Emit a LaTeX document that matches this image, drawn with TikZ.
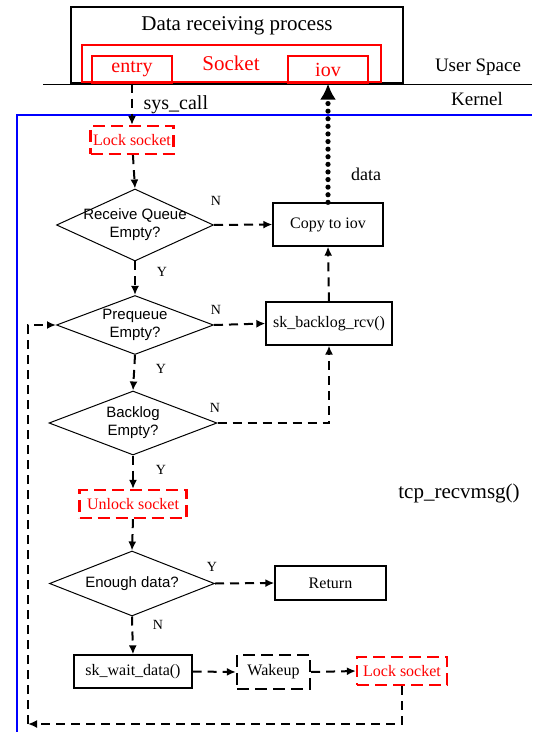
\documentclass[tikz,border=0pt]{standalone}
\usepackage{fontspec}
\setmainfont{Liberation Serif}
\setsansfont{Liberation Sans}
\usetikzlibrary{shapes.geometric,arrows.meta}

\tikzset{
	box/.style={draw, line width=0.65pt, inner sep=0pt, font=\fontsize{8}{9}\selectfont},
	redbox/.style={draw=red, text=red, line width=0.6pt, inner sep=0pt},
	lockbox/.style={draw=red, text=red, line width=1.1pt, dash pattern=on 6pt off 3pt, inner sep=0pt, minimum height=14pt, font=\fontsize{8}{9}\selectfont},
	dec/.style={diamond, draw, line width=0.5pt, inner sep=0pt},
	dectext/.style={align=center, font=\sffamily\fontsize{7.5}{9}\selectfont},
	flow/.style={line width=1pt, dash pattern=on 4.5pt off 3pt, -{Latex[length=4.5pt,width=4pt]}},
	yn/.style={font=\fontsize{7}{8}\selectfont},
}

\begin{document}
\begin{tikzpicture}[x=0.5pt,y=-0.5pt]
	\useasboundingbox (0,0) rectangle (532,732);

	% user space
	\node[draw, line width=0.6pt, minimum width=166pt, minimum height=38pt] (app) at (237,45) {};
	\node[font=\fontsize{10.5}{12}\selectfont] (title) at (237,26) {Data receiving process};
	\node[redbox, minimum width=149.5pt, minimum height=18.5pt] (sock) at (231.5,63.5) {};
	\node[text=red, font=\fontsize{10.5}{12}\selectfont] (socktxt) at (231,63) {Socket};
	\node[redbox, minimum width=40pt, minimum height=13.5pt, font=\fontsize{10}{12}\selectfont] (entry) at (132,69.5) {entry};
	\node[redbox, minimum width=40pt, minimum height=13.5pt, font=\fontsize{10}{12}\selectfont] (iov) at (328,69.5) {iov};

	\draw[line width=0.5pt] (43,85) -- (532,85);
	\node[font=\fontsize{9.5}{11}\selectfont] (us) at (478,67) {User Space};
	\node[font=\fontsize{9.5}{11}\selectfont] (kern) at (477,99) {Kernel};

	% kernel
	\draw[blue, line width=0.7pt] (17,732) |- (532,115);
	\node[font=\fontsize{10.5}{12}\selectfont] (tcp) at (459,493) {tcp\_recvmsg()};

	\node[lockbox, minimum width=41.5pt] (lk1) at (132,140) {Lock socket};
	\node[dec, minimum width=78.5pt, minimum height=36pt,
		label={[dectext]center:{Receive Queue\\Empty?}}] (rq) at (135,225) {};
	\node[box, minimum width=55pt, minimum height=21.5pt] (copy) at (328,224.5) {Copy to iov};
	\node[dec, minimum width=78.5pt, minimum height=29.5pt,
		label={[dectext]center:{Prequeue\\Empty?}}] (pq) at (135,325) {};
	\node[box, minimum width=63pt, minimum height=21.5pt] (bkr) at (329,323.5) {sk\_backlog\_rcv()};
	\node[dec, minimum width=84pt, minimum height=32pt,
		label={[dectext]center:{Backlog\\Empty?}}] (bl) at (133,423) {};
	\node[lockbox, minimum width=53.5pt] (ulk) at (133,504) {Unlock socket};
	\node[dec, minimum width=82.5pt, minimum height=32.5pt,
		label={[dectext]center:{Enough data?}}] (ed) at (132,583.5) {};
	\node[box, minimum width=55.5pt, minimum height=17pt] (ret) at (330.5,583) {Return};
	\node[box, minimum width=59pt, minimum height=16.5pt] (wait) at (133,671.5) {sk\_wait\_data()};
	\node[box, dash pattern=on 6pt off 3pt, line width=1.1pt, minimum width=36.5pt, minimum height=17pt] (wake) at (273.5,672) {Wakeup};
	\node[lockbox, minimum width=45pt] (lk2) at (402,671) {Lock socket};
	\coordinate (loop) at (28,724);

	% connectors
	\draw[flow] (entry) -- node[right, font=\fontsize{10}{12}\selectfont, xshift=2pt] (sys) {sys\_call} (lk1);
	\draw[flow] (lk1) -- (rq.north);
	\draw[flow] (rq.east) -- (copy.west);
	\draw[flow] (rq.south) -- (pq.north);
	\draw[flow] (pq.east) -- (bkr.west);
	\draw[flow] (pq.south) -- (bl.north);
	\draw[flow] (bl.east) -| (bkr.south);
	\draw[flow] (bkr.north) -- (copy.south);
	\draw[line width=2.6pt, dash pattern=on 0pt off 3.8pt, line cap=round, -{Latex[length=8pt,width=8pt]}]
		(copy.north) -- (iov.south);
	\node[font=\fontsize{9}{11}\selectfont] (dt) at (366,174) {data};
	\draw[flow] (bl.south) -- (ulk.north);
	\draw[flow] (ulk.south) -- (ed.north);
	\draw[flow] (ed.east) -- (ret.west);
	\draw[flow] (ed.south) -- (wait.north);
	\draw[flow] (wait.east) -- (wake.west);
	\draw[flow] (wake.east) -- (lk2.west);
	\draw[flow] (lk2.south) |- (loop);
	\draw[flow] (loop) |- (pq.west);

	% branch labels
	\node[yn] (n1) at (216,201) {N};
	\node[yn] (y1) at (162,272) {Y};
	\node[yn] (n2) at (216,310) {N};
	\node[yn] (y2) at (161,369) {Y};
	\node[yn] (n3) at (215,408) {N};
	\node[yn] (y3) at (161,470) {Y};
	\node[yn] (y4) at (212,567) {Y};
	\node[yn] (n4) at (158,625) {N};

\end{tikzpicture}
\end{document}
